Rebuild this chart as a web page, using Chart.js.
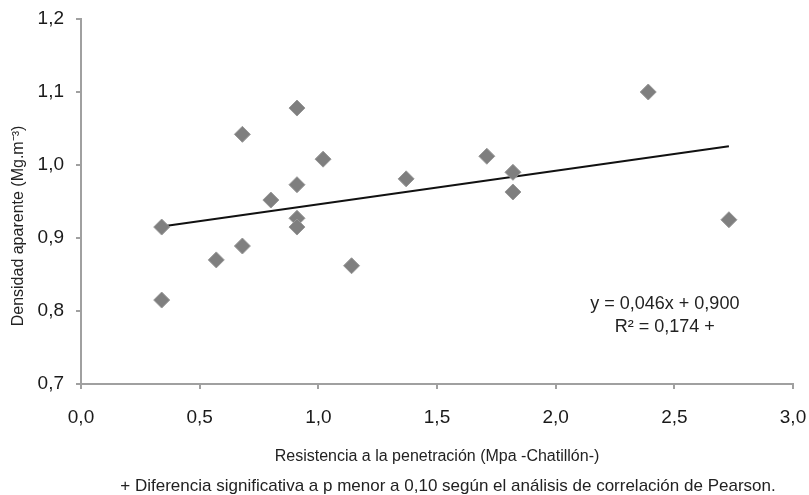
<!DOCTYPE html>
<html>
<head>
<meta charset="utf-8">
<script src="https://cdn.jsdelivr.net/npm/chart.js@4.4.1/dist/chart.umd.min.js"></script>
<style>
  html, body { margin: 0; padding: 0; background: #fff; }
</style>
</head>
<body>
<canvas id="grafico" width="809" height="495"></canvas>
<script>
// resistencia a la penetracion (MPa) y densidad aparente (Mg/m3)
var resistencia = [0.34, 0.34, 0.57, 0.68, 0.68, 0.80, 0.91, 0.91, 0.91, 0.91,
                   1.02, 1.14, 1.37, 1.71, 1.82, 1.82, 2.39, 2.73];
var densidad = [0.915, 0.815, 0.870, 1.042, 0.889, 0.952, 1.078, 0.973, 0.927, 0.915,
                1.008, 0.862, 0.981, 1.012, 0.990, 0.963, 1.100, 0.925];

// recta de regresion: y = 0,046x + 0,900
var pendiente = 0.046;
var ordenada = 0.900;
var ecuacion = 'y = 0,046x + 0,900';
var r2texto = 'R\u00B2 = 0,174 +';

var tituloX = 'Resistencia a la penetración (Mpa -Chatillón-)';
var tituloY = 'Densidad aparente (Mg.m\u207B\u00B3)';
var nota = '+ Diferencia significativa a p menor a 0,10 según el análisis de correlación de Pearson.';

var fuente = "'Liberation Sans', Arial, sans-serif";

puntos = [];
for (i = 0; i < resistencia.length; i++) {
  puntos.push({ x: resistencia[i], y: densidad[i] });
}
var xmin = Math.min.apply(null, resistencia);
var xmax = Math.max.apply(null, resistencia);
var tendencia = [
  { x: xmin, y: pendiente * xmin + ordenada },
  { x: xmax, y: pendiente * xmax + ordenada }
];

function coma(v) {
  return v.toFixed(1).replace('.', ',');
}

// textos fuera de los ejes
var textos = {
  id: 'textos',
  afterDraw: function (chart) {
    var ctx = chart.ctx;
    var sx = chart.scales.x, sy = chart.scales.y;
    var cx = (chart.chartArea.left + chart.chartArea.right) / 2;
    ctx.save();
    ctx.fillStyle = '#222';
    ctx.textAlign = 'center';
    ctx.textBaseline = 'middle';

    ctx.font = '18px ' + fuente;
    ctx.fillText(ecuacion, sx.getPixelForValue(2.46), sy.getPixelForValue(0.81));
    ctx.fillText(r2texto, sx.getPixelForValue(2.46), sy.getPixelForValue(0.778));

    ctx.font = '16px ' + fuente;
    ctx.fillText(tituloX, cx, 457);
    ctx.font = '17px ' + fuente;
    ctx.fillText(nota, cx + 11, 486);

    ctx.font = '16px ' + fuente;
    ctx.translate(19, 226);
    ctx.rotate(-Math.PI / 2);
    ctx.fillText(tituloY, 0, 0);
    ctx.restore();
  }
};

// quita el margen extra que Chart.js deja para las etiquetas de los extremos
function sinMargen(s) {
  s.paddingLeft = 0;
  s.paddingRight = 0;
  s.paddingTop = 0;
  s.paddingBottom = 0;
}

new Chart(document.getElementById('grafico'), {
  type: 'scatter',
  data: {
    datasets: [
      {
        label: 'Densidad',
        data: puntos,
        pointStyle: 'rectRot',
        pointRadius: 8,
        pointHoverRadius: 8,
        backgroundColor: '#7f7f7f',
        borderColor: '#979797',
        borderWidth: 1
      },
      {
        label: 'Lineal',
        type: 'line',
        data: tendencia,
        borderColor: '#111',
        borderWidth: 2,
        pointRadius: 0,
        fill: false
      }
    ]
  },
  plugins: [textos],
  options: {
    responsive: false,
    animation: false,
    layout: { padding: { left: 0, top: 19, right: 16, bottom: 0 } },
    plugins: {
      legend: { display: false },
      tooltip: { enabled: false }
    },
    scales: {
      x: {
        type: 'linear',
        min: 0,
        max: 3,
        afterFit: function (s) { s.height = 111; sinMargen(s); },
        ticks: {
          stepSize: 0.5,
          padding: 17,
          color: '#1a1a1a',
          font: { family: fuente, size: 19 },
          callback: function (v) { return coma(v); }
        },
        grid: { drawOnChartArea: false, drawTicks: true, tickLength: 5, color: '#a0a0a0', lineWidth: 2 },
        border: { color: '#a0a0a0', width: 2 }
      },
      y: {
        type: 'linear',
        min: 0.7,
        max: 1.2,
        afterFit: function (s) { s.width = 81; sinMargen(s); },
        ticks: {
          stepSize: 0.1,
          padding: 12,
          color: '#1a1a1a',
          font: { family: fuente, size: 19 },
          callback: function (v) { return coma(v); }
        },
        grid: { drawOnChartArea: false, drawTicks: true, tickLength: 5, color: '#a0a0a0', lineWidth: 2 },
        border: { color: '#a0a0a0', width: 2 }
      }
    }
  }
});
</script>
</body>
</html>
